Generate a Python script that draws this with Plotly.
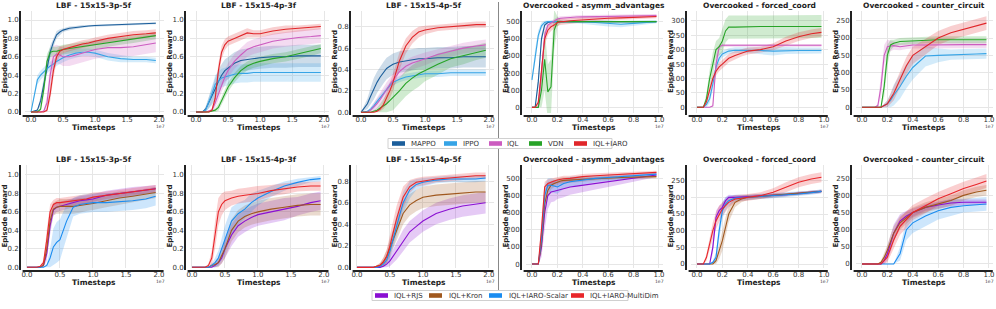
import plotly.graph_objects as go

W, H = 996, 309
FONT = "DejaVu Sans"

# ---------------- x grids (timesteps, in units of 1e7) ----------------
lbf_t = [0, 0.1, 0.15, 0.2, 0.25, 0.3, 0.35, 0.4, 0.45, 0.5, 0.6, 0.7, 0.8, 0.9, 1.0, 1.2, 1.4, 1.6, 1.8, 1.95]
oc_t = [0, 0.025, 0.05, 0.075, 0.1, 0.125, 0.15, 0.175, 0.2, 0.225, 0.25, 0.3, 0.35, 0.4, 0.5, 0.6, 0.7, 0.8, 0.9, 0.98]

# ---------------- top row: baselines ----------------
# LBF 15x15-3p-5f
t1_mappo = [0, 0.02, 0.12, 0.3, 0.5, 0.65, 0.76, 0.84, 0.87, 0.89, 0.91, 0.92, 0.93, 0.935, 0.94, 0.945, 0.95, 0.955, 0.96, 0.965]
t1_mappo_sd = [0, 0.01, 0.05, 0.08, 0.08, 0.07, 0.05, 0.04, 0.03, 0.02, 0.02, 0.015, 0.015, 0.01, 0.01, 0.01, 0.01, 0.01, 0.01, 0.01]
t1_ippo = [0, 0.35, 0.4, 0.44, 0.47, 0.5, 0.52, 0.55, 0.57, 0.59, 0.62, 0.64, 0.65, 0.65, 0.64, 0.6, 0.58, 0.57, 0.57, 0.56]
t1_ippo_sd = [0, 0.05, 0.05, 0.05, 0.05, 0.05, 0.05, 0.05, 0.05, 0.05, 0.05, 0.05, 0.04, 0.04, 0.04, 0.04, 0.04, 0.03, 0.03, 0.03]
t1_iql = [0, 0, 0, 0.01, 0.1, 0.4, 0.6, 0.63, 0.62, 0.6, 0.6, 0.62, 0.64, 0.66, 0.68, 0.7, 0.7, 0.71, 0.73, 0.75]
t1_iql_sd = [0, 0, 0, 0.01, 0.08, 0.15, 0.12, 0.1, 0.1, 0.1, 0.1, 0.1, 0.1, 0.1, 0.1, 0.1, 0.1, 0.1, 0.1, 0.1]
t1_vdn = [0, 0, 0.03, 0.25, 0.55, 0.65, 0.66, 0.66, 0.67, 0.68, 0.69, 0.7, 0.71, 0.72, 0.73, 0.75, 0.77, 0.79, 0.81, 0.83]
t1_vdn_sd = [0, 0, 0.02, 0.08, 0.08, 0.05, 0.05, 0.05, 0.05, 0.05, 0.05, 0.05, 0.05, 0.05, 0.05, 0.04, 0.04, 0.04, 0.04, 0.04]
t1_iaro = [0, 0, 0, 0, 0.02, 0.2, 0.45, 0.6, 0.66, 0.68, 0.7, 0.72, 0.74, 0.75, 0.77, 0.8, 0.82, 0.84, 0.85, 0.86]
t1_iaro_sd = [0, 0, 0, 0, 0.02, 0.08, 0.08, 0.06, 0.05, 0.04, 0.04, 0.04, 0.04, 0.04, 0.04, 0.04, 0.04, 0.04, 0.04, 0.04]

# LBF 15x15-4p-3f
t2_mappo = [0, 0, 0.03, 0.1, 0.18, 0.25, 0.33, 0.4, 0.45, 0.48, 0.53, 0.56, 0.57, 0.58, 0.59, 0.6, 0.6, 0.61, 0.61, 0.61]
t2_mappo_sd = [0, 0, 0.03, 0.06, 0.1, 0.12, 0.12, 0.12, 0.12, 0.12, 0.12, 0.12, 0.12, 0.12, 0.12, 0.12, 0.12, 0.12, 0.12, 0.12]
t2_ippo = [0, 0, 0.02, 0.1, 0.2, 0.3, 0.34, 0.37, 0.38, 0.39, 0.41, 0.42, 0.42, 0.43, 0.43, 0.43, 0.43, 0.43, 0.43, 0.43]
t2_ippo_sd = [0, 0, 0.02, 0.06, 0.1, 0.1, 0.1, 0.1, 0.1, 0.1, 0.1, 0.1, 0.1, 0.1, 0.1, 0.1, 0.1, 0.1, 0.1, 0.1]
t2_iql = [0, 0, 0, 0.01, 0.02, 0.1, 0.2, 0.3, 0.38, 0.45, 0.55, 0.62, 0.68, 0.71, 0.73, 0.77, 0.79, 0.81, 0.82, 0.83]
t2_iql_sd = [0, 0, 0, 0.01, 0.02, 0.05, 0.08, 0.08, 0.08, 0.08, 0.08, 0.08, 0.08, 0.08, 0.08, 0.08, 0.08, 0.08, 0.08, 0.08]
t2_vdn = [0, 0, 0, 0, 0.01, 0.02, 0.05, 0.12, 0.2, 0.27, 0.37, 0.45, 0.5, 0.53, 0.55, 0.58, 0.6, 0.63, 0.66, 0.69]
t2_vdn_sd = [0, 0, 0, 0, 0.01, 0.02, 0.04, 0.05, 0.05, 0.05, 0.05, 0.05, 0.05, 0.05, 0.05, 0.05, 0.05, 0.05, 0.05, 0.05]
t2_iaro = [0, 0, 0, 0, 0.02, 0.15, 0.45, 0.65, 0.73, 0.77, 0.8, 0.83, 0.86, 0.85, 0.85, 0.88, 0.9, 0.91, 0.92, 0.93]
t2_iaro_sd = [0, 0, 0, 0, 0.02, 0.06, 0.08, 0.07, 0.06, 0.05, 0.05, 0.05, 0.05, 0.04, 0.04, 0.04, 0.04, 0.03, 0.03, 0.03]

# LBF 15x15-4p-5f
t3_mappo = [0, 0.08, 0.15, 0.22, 0.28, 0.33, 0.37, 0.41, 0.43, 0.45, 0.47, 0.48, 0.49, 0.5, 0.5, 0.51, 0.51, 0.52, 0.52, 0.52]
t3_mappo_sd = [0, 0.05, 0.08, 0.1, 0.1, 0.1, 0.1, 0.1, 0.1, 0.1, 0.1, 0.1, 0.1, 0.1, 0.1, 0.1, 0.1, 0.1, 0.1, 0.1]
t3_ippo = [0, 0.01, 0.03, 0.06, 0.1, 0.14, 0.18, 0.22, 0.25, 0.28, 0.31, 0.33, 0.34, 0.35, 0.36, 0.36, 0.37, 0.37, 0.37, 0.37]
t3_ippo_sd = [0, 0.01, 0.02, 0.03, 0.03, 0.03, 0.03, 0.03, 0.03, 0.03, 0.03, 0.03, 0.03, 0.03, 0.03, 0.03, 0.03, 0.03, 0.03, 0.03]
t3_iql = [0, 0, 0.02, 0.05, 0.08, 0.12, 0.17, 0.22, 0.26, 0.3, 0.38, 0.43, 0.46, 0.48, 0.5, 0.54, 0.57, 0.6, 0.62, 0.63]
t3_iql_sd = [0, 0, 0.02, 0.04, 0.05, 0.06, 0.06, 0.06, 0.06, 0.06, 0.06, 0.06, 0.06, 0.06, 0.06, 0.05, 0.05, 0.05, 0.05, 0.05]
t3_vdn = [0, 0, 0, 0.01, 0.02, 0.04, 0.06, 0.08, 0.11, 0.14, 0.2, 0.27, 0.32, 0.36, 0.39, 0.45, 0.5, 0.53, 0.56, 0.58]
t3_vdn_sd = [0, 0, 0, 0.01, 0.02, 0.04, 0.06, 0.08, 0.1, 0.12, 0.12, 0.12, 0.12, 0.12, 0.1, 0.1, 0.08, 0.08, 0.07, 0.07]
t3_iaro = [0, 0, 0, 0, 0.01, 0.03, 0.07, 0.13, 0.2, 0.28, 0.48, 0.62, 0.7, 0.75, 0.77, 0.79, 0.8, 0.81, 0.82, 0.82]
t3_iaro_sd = [0, 0, 0, 0, 0.01, 0.02, 0.04, 0.06, 0.07, 0.08, 0.08, 0.07, 0.06, 0.05, 0.04, 0.03, 0.03, 0.03, 0.03, 0.03]

# Overcooked - asymm_advantages
t4_mappo = [0, 0, 150, 400, 480, 495, 500, 500, 500, 500, 500, 500, 500, 500, 500, 500, 500, 500, 500, 500]
t4_mappo_sd = [0, 0, 40, 30, 10, 5, 3, 3, 3, 3, 3, 3, 3, 3, 3, 3, 3, 3, 3, 3]
t4_ippo = [160, 300, 420, 475, 495, 500, 500, 500, 500, 500, 500, 500, 500, 500, 495, 490, 485, 490, 495, 500]
t4_ippo_sd = [20, 40, 30, 20, 10, 8, 8, 8, 8, 8, 8, 10, 10, 12, 15, 18, 18, 15, 12, 10]
t4_iql = [0, 0, 0, 200, 420, 480, 490, 500, 515, 520, 522, 525, 527, 528, 530, 530, 532, 533, 534, 535]
t4_iql_sd = [0, 0, 0, 60, 40, 20, 15, 15, 12, 12, 12, 10, 10, 10, 10, 10, 10, 10, 10, 10]
t4_vdn = [0, 0, 0, 100, 280, 90, 120, 450, 500, 500, 500, 500, 500, 500, 500, 500, 500, 500, 500, 500]
t4_vdn_sd = [0, 0, 0, 100, 180, 160, 160, 120, 30, 10, 5, 5, 5, 5, 5, 5, 5, 5, 5, 5]
t4_iaro = [0, 0, 30, 200, 400, 450, 470, 480, 495, 500, 500, 505, 508, 510, 515, 520, 522, 525, 528, 530]
t4_iaro_sd = [0, 0, 20, 60, 40, 30, 25, 20, 20, 20, 18, 15, 15, 15, 12, 12, 12, 10, 10, 10]

# Overcooked - forced_coord
t5_ippo = [0, 0, 0, 10, 30, 80, 140, 170, 185, 190, 195, 198, 198, 198, 197, 195, 197, 197, 197, 197]
t5_ippo_sd = [0, 0, 0, 10, 15, 20, 20, 15, 12, 10, 10, 10, 10, 10, 12, 15, 12, 10, 10, 10]
t5_iql = [0, 0, 0, 0, 0, 5, 150, 210, 215, 215, 215, 215, 215, 215, 215, 215, 215, 215, 215, 215]
t5_iql_sd = [0, 0, 0, 0, 0, 5, 30, 10, 5, 5, 5, 5, 5, 5, 5, 5, 5, 5, 5, 5]
t5_vdn = [0, 0, 0, 30, 100, 150, 200, 210, 230, 265, 278, 278, 279, 280, 280, 280, 280, 280, 280, 280]
t5_vdn_sd = [0, 0, 0, 20, 30, 40, 30, 30, 40, 40, 40, 40, 40, 40, 40, 40, 40, 40, 40, 40]
t5_iaro = [0, 0, 0, 20, 60, 100, 125, 140, 150, 160, 170, 180, 188, 195, 200, 210, 230, 245, 255, 260]
t5_iaro_sd = [0, 0, 0, 10, 15, 15, 15, 15, 15, 15, 15, 15, 12, 12, 10, 12, 15, 15, 15, 15]

# Overcooked - counter_circuit
t6_ippo = [0, 0, 0, 0, 0, 0, 0, 5, 10, 20, 35, 60, 90, 115, 148, 150, 152, 153, 154, 155]
t6_ippo_sd = [0, 0, 0, 0, 0, 0, 0, 5, 10, 20, 30, 35, 35, 35, 30, 20, 15, 15, 15, 15]
t6_iql = [0, 0, 0, 0, 0, 5, 60, 150, 175, 177, 178, 175, 178, 180, 180, 181, 181, 181, 181, 181]
t6_iql_sd = [0, 0, 0, 0, 0, 5, 30, 30, 20, 15, 12, 10, 10, 10, 10, 10, 10, 10, 10, 10]
t6_vdn = [0, 0, 0, 0, 0, 0, 0, 60, 150, 180, 185, 190, 191, 192, 195, 195, 195, 195, 195, 195]
t6_vdn_sd = [0, 0, 0, 0, 0, 0, 0, 30, 30, 15, 10, 10, 10, 10, 10, 10, 10, 10, 10, 10]
t6_iaro = [0, 0, 0, 0, 0, 0, 0, 5, 10, 25, 40, 80, 120, 150, 175, 200, 215, 225, 235, 243]
t6_iaro_sd = [0, 0, 0, 0, 0, 0, 0, 5, 10, 15, 20, 25, 25, 25, 22, 20, 20, 20, 20, 20]

# ---------------- bottom row: ablations ----------------
b1_rjs = [0, 0, 0, 0, 0.02, 0.15, 0.45, 0.62, 0.65, 0.66, 0.68, 0.7, 0.72, 0.73, 0.74, 0.78, 0.8, 0.82, 0.84, 0.85]
b1_kron = [0, 0, 0, 0, 0.02, 0.2, 0.5, 0.63, 0.65, 0.66, 0.66, 0.66, 0.67, 0.68, 0.69, 0.72, 0.75, 0.77, 0.79, 0.81]
b1_scalar = [0, 0, 0, 0, 0, 0.02, 0.1, 0.22, 0.27, 0.3, 0.5, 0.65, 0.68, 0.69, 0.7, 0.7, 0.71, 0.72, 0.74, 0.77]
b1_multi = [0, 0, 0, 0.01, 0.05, 0.3, 0.6, 0.68, 0.7, 0.7, 0.71, 0.72, 0.73, 0.74, 0.76, 0.78, 0.8, 0.82, 0.84, 0.85]
b1_rjs_sd = [0, 0, 0, 0, 0.02, 0.08, 0.1, 0.06, 0.05, 0.05, 0.05, 0.05, 0.05, 0.05, 0.05, 0.05, 0.05, 0.05, 0.04, 0.04]
b1_kron_sd = [0, 0, 0, 0, 0.02, 0.08, 0.1, 0.07, 0.07, 0.08, 0.08, 0.08, 0.08, 0.07, 0.07, 0.07, 0.07, 0.06, 0.06, 0.06]
b1_scalar_sd = [0, 0, 0, 0, 0, 0.02, 0.1, 0.2, 0.22, 0.22, 0.18, 0.1, 0.1, 0.1, 0.1, 0.1, 0.1, 0.1, 0.1, 0.1]
b1_multi_sd = [0, 0, 0, 0.01, 0.03, 0.1, 0.08, 0.05, 0.05, 0.05, 0.05, 0.05, 0.05, 0.05, 0.05, 0.04, 0.04, 0.04, 0.04, 0.04]

b2_rjs = [0, 0, 0, 0, 0, 0, 0.02, 0.05, 0.1, 0.2, 0.35, 0.45, 0.5, 0.54, 0.57, 0.6, 0.63, 0.66, 0.7, 0.72]
b2_kron = [0, 0, 0, 0, 0, 0.02, 0.03, 0.05, 0.12, 0.2, 0.4, 0.5, 0.55, 0.58, 0.6, 0.63, 0.65, 0.67, 0.68, 0.68]
b2_scalar = [0, 0, 0, 0, 0, 0.02, 0.05, 0.1, 0.2, 0.3, 0.5, 0.58, 0.63, 0.7, 0.75, 0.82, 0.88, 0.92, 0.95, 0.96]
b2_multi = [0, 0, 0, 0, 0.02, 0.1, 0.35, 0.6, 0.68, 0.72, 0.75, 0.77, 0.78, 0.79, 0.8, 0.83, 0.85, 0.87, 0.88, 0.88]
b2_rjs_sd = [0, 0, 0, 0, 0, 0, 0.02, 0.04, 0.06, 0.1, 0.12, 0.12, 0.12, 0.12, 0.12, 0.12, 0.12, 0.1, 0.1, 0.1]
b2_kron_sd = [0, 0, 0, 0, 0, 0.02, 0.03, 0.05, 0.08, 0.1, 0.12, 0.12, 0.12, 0.12, 0.12, 0.12, 0.12, 0.12, 0.12, 0.12]
b2_scalar_sd = [0, 0, 0, 0, 0, 0.02, 0.05, 0.08, 0.12, 0.15, 0.15, 0.12, 0.1, 0.1, 0.08, 0.06, 0.05, 0.04, 0.03, 0.03]
b2_multi_sd = [0, 0, 0, 0, 0.02, 0.08, 0.15, 0.15, 0.12, 0.1, 0.08, 0.08, 0.08, 0.08, 0.08, 0.06, 0.06, 0.05, 0.05, 0.05]

b3_rjs = [0, 0, 0, 0, 0, 0, 0, 0.01, 0.03, 0.06, 0.15, 0.25, 0.33, 0.38, 0.43, 0.5, 0.54, 0.57, 0.59, 0.6]
b3_kron = [0, 0, 0, 0, 0, 0.01, 0.02, 0.05, 0.1, 0.18, 0.35, 0.5, 0.58, 0.62, 0.65, 0.67, 0.68, 0.69, 0.7, 0.7]
b3_scalar = [0, 0, 0, 0, 0, 0, 0.01, 0.03, 0.07, 0.15, 0.38, 0.6, 0.72, 0.77, 0.79, 0.81, 0.82, 0.82, 0.82, 0.83]
b3_multi = [0, 0, 0, 0, 0, 0.01, 0.02, 0.05, 0.1, 0.2, 0.45, 0.65, 0.75, 0.79, 0.8, 0.82, 0.83, 0.84, 0.85, 0.85]
b3_rjs_sd = [0, 0, 0, 0, 0, 0, 0, 0.01, 0.03, 0.05, 0.08, 0.1, 0.1, 0.1, 0.1, 0.1, 0.1, 0.1, 0.1, 0.1]
b3_kron_sd = [0, 0, 0, 0, 0, 0.01, 0.02, 0.04, 0.06, 0.08, 0.1, 0.1, 0.1, 0.1, 0.1, 0.1, 0.1, 0.1, 0.1, 0.1]
b3_scalar_sd = [0, 0, 0, 0, 0, 0, 0.01, 0.03, 0.05, 0.08, 0.1, 0.1, 0.08, 0.05, 0.04, 0.03, 0.03, 0.03, 0.03, 0.03]
b3_multi_sd = [0, 0, 0, 0, 0, 0.01, 0.02, 0.04, 0.06, 0.1, 0.12, 0.1, 0.06, 0.04, 0.04, 0.03, 0.03, 0.03, 0.03, 0.03]

b4_rjs = [0, 0, 0, 100, 300, 400, 420, 425, 430, 435, 440, 450, 455, 460, 470, 480, 490, 500, 510, 520]
b4_kron = [0, 0, 0, 120, 350, 430, 460, 470, 480, 485, 488, 490, 493, 495, 500, 502, 505, 507, 509, 510]
b4_scalar = [0, 0, 0, 150, 400, 460, 460, 455, 450, 460, 470, 480, 485, 490, 500, 505, 510, 515, 520, 525]
b4_multi = [0, 0, 0, 200, 450, 470, 480, 485, 490, 495, 498, 500, 505, 510, 515, 520, 525, 530, 532, 535]
b4_rjs_sd = [0, 0, 0, 60, 100, 80, 60, 60, 50, 50, 50, 45, 40, 40, 35, 30, 25, 20, 15, 12]
b4_kron_sd = [0, 0, 0, 60, 80, 40, 25, 20, 20, 20, 18, 15, 15, 15, 12, 12, 10, 10, 10, 10]
b4_scalar_sd = [0, 0, 0, 60, 60, 40, 40, 40, 40, 35, 30, 30, 28, 25, 22, 20, 18, 15, 12, 10]
b4_multi_sd = [0, 0, 0, 60, 30, 25, 20, 20, 18, 18, 18, 15, 15, 15, 15, 12, 12, 10, 10, 10]

b5_rjs = [0, 0, 0, 0, 0, 50, 140, 160, 170, 190, 200, 200, 201, 202, 204, 205, 208, 212, 215, 218]
b5_kron = [0, 0, 0, 0, 0, 0, 10, 40, 70, 110, 150, 185, 195, 200, 203, 205, 208, 212, 215, 218]
b5_scalar = [0, 0, 0, 0, 0, 5, 20, 100, 160, 180, 190, 198, 199, 200, 203, 205, 208, 210, 214, 218]
b5_multi = [0, 0, 0, 20, 60, 100, 130, 150, 165, 175, 185, 195, 198, 200, 205, 215, 230, 245, 255, 260]
b5_rjs_sd = [0, 0, 0, 0, 0, 20, 20, 15, 12, 10, 8, 6, 5, 5, 5, 5, 5, 5, 5, 5]
b5_kron_sd = [0, 0, 0, 0, 0, 0, 10, 25, 30, 30, 25, 15, 10, 8, 6, 5, 5, 5, 5, 5]
b5_scalar_sd = [0, 0, 0, 0, 0, 5, 15, 25, 25, 20, 15, 10, 8, 8, 8, 8, 6, 6, 6, 6]
b5_multi_sd = [0, 0, 0, 10, 20, 25, 25, 25, 20, 18, 15, 12, 10, 10, 10, 12, 15, 15, 15, 15]

b6_rjs = [0, 0, 0, 0, 0, 0, 0, 10, 30, 60, 90, 125, 140, 150, 165, 172, 178, 180, 180, 180]
b6_kron = [0, 0, 0, 0, 0, 0, 5, 20, 40, 65, 90, 120, 135, 150, 165, 175, 185, 200, 210, 215]
b6_scalar = [0, 0, 0, 0, 0, 0, 0, 0, 0, 0, 0, 30, 100, 120, 140, 155, 165, 170, 173, 175]
b6_multi = [0, 0, 0, 0, 0, 0, 0, 10, 20, 45, 70, 110, 130, 150, 170, 190, 205, 220, 232, 242]
b6_rjs_sd = [0, 0, 0, 0, 0, 0, 0, 10, 20, 25, 25, 20, 15, 12, 10, 10, 10, 8, 8, 8]
b6_kron_sd = [0, 0, 0, 0, 0, 0, 5, 10, 15, 20, 20, 20, 18, 15, 15, 15, 15, 15, 15, 15]
b6_scalar_sd = [0, 0, 0, 0, 0, 0, 0, 0, 0, 0, 0, 20, 30, 30, 30, 25, 25, 20, 20, 20]
b6_multi_sd = [0, 0, 0, 0, 0, 0, 0, 10, 15, 20, 25, 25, 25, 22, 22, 20, 20, 20, 20, 20]

# ---------------- text ----------------
titles_top = ["LBF - 15x15-3p-5f", "LBF - 15x15-4p-3f", "LBF - 15x15-4p-5f",
              "Overcooked - asymm_advantages", "Overcooked - forced_coord", "Overcooked - counter_circuit"]
titles_bot = titles_top
legend_top = ["MAPPO", "IPPO", "IQL", "VDN", "IQL+IARO"]
legend_bot = ["IQL+RJS", "IQL+Kron", "IQL+IARO-Scalar", "IQL+IARO-MultiDim"]

COL = {"MAPPO": "#1b5e9b", "IPPO": "#36a4e6", "IQL": "#cc5cc0", "VDN": "#27a327",
       "IQL+IARO": "#e0262a", "IQL+RJS": "#8a0fd2", "IQL+Kron": "#a0581e",
       "IQL+IARO-Scalar": "#1a8cf0", "IQL+IARO-MultiDim": "#e8262a"}

panels = [
    # row, title, t, series, xdom(px), xrange, yrange, ytick step, ytick max
    (0, titles_top[0], lbf_t, [("MAPPO", t1_mappo, t1_mappo_sd), ("IPPO", t1_ippo, t1_ippo_sd), ("IQL", t1_iql, t1_iql_sd), ("VDN", t1_vdn, t1_vdn_sd), ("IQL+IARO", t1_iaro, t1_iaro_sd)],
     (24.6, 163.5), (-0.1, 2.07), (-0.011, 1.098), 0.2, 1.0),
    (0, titles_top[1], lbf_t, [("MAPPO", t2_mappo, t2_mappo_sd), ("IPPO", t2_ippo, t2_ippo_sd), ("IQL", t2_iql, t2_iql_sd), ("VDN", t2_vdn, t2_vdn_sd), ("IQL+IARO", t2_iaro, t2_iaro_sd)],
     (189.6, 328.5), (-0.1, 2.07), (-0.011, 1.098), 0.2, 1.0),
    (0, titles_top[2], lbf_t, [("MAPPO", t3_mappo, t3_mappo_sd), ("IPPO", t3_ippo, t3_ippo_sd), ("IQL", t3_iql, t3_iql_sd), ("VDN", t3_vdn, t3_vdn_sd), ("IQL+IARO", t3_iaro, t3_iaro_sd)],
     (354.6, 493.5), (-0.1, 2.07), (-0.0065, 0.947), 0.2, 0.8),
    (0, titles_top[3], oc_t, [("MAPPO", t4_mappo, t4_mappo_sd), ("IPPO", t4_ippo, t4_ippo_sd), ("IQL", t4_iql, t4_iql_sd), ("VDN", t4_vdn, t4_vdn_sd), ("IQL+IARO", t4_iaro, t4_iaro_sd)],
     (525.6, 662.8), (-0.05, 1.03), (-33, 562), 100, 500),
    (0, titles_top[4], oc_t, [("IPPO", t5_ippo, t5_ippo_sd), ("IQL", t5_iql, t5_iql_sd), ("VDN", t5_vdn, t5_vdn_sd), ("IQL+IARO", t5_iaro, t5_iaro_sd)],
     (690.6, 827.8), (-0.05, 1.03), (-19.7, 334), 50, 300),
    (0, titles_top[5], oc_t, [("IPPO", t6_ippo, t6_ippo_sd), ("IQL", t6_iql, t6_iql_sd), ("VDN", t6_vdn, t6_vdn_sd), ("IQL+IARO", t6_iaro, t6_iaro_sd)],
     (855.6, 992.8), (-0.05, 1.03), (-16.4, 278), 50, 250),
    (1, titles_bot[0], lbf_t, [("IQL+RJS", b1_rjs, b1_rjs_sd), ("IQL+Kron", b1_kron, b1_kron_sd), ("IQL+IARO-Scalar", b1_scalar, b1_scalar_sd), ("IQL+IARO-MultiDim", b1_multi, b1_multi_sd)],
     (24.6, 163.6), (-0.036, 2.07), (-0.008, 1.108), 0.2, 1.0),
    (1, titles_bot[1], lbf_t, [("IQL+RJS", b2_rjs, b2_rjs_sd), ("IQL+Kron", b2_kron, b2_kron_sd), ("IQL+IARO-Scalar", b2_scalar, b2_scalar_sd), ("IQL+IARO-MultiDim", b2_multi, b2_multi_sd)],
     (189.6, 328.5), (-0.036, 2.07), (-0.008, 1.108), 0.2, 1.0),
    (1, titles_bot[2], lbf_t, [("IQL+RJS", b3_rjs, b3_rjs_sd), ("IQL+Kron", b3_kron, b3_kron_sd), ("IQL+IARO-Scalar", b3_scalar, b3_scalar_sd), ("IQL+IARO-MultiDim", b3_multi, b3_multi_sd)],
     (354.6, 493.5), (-0.036, 2.07), (-0.006, 0.95), 0.2, 0.8),
    (1, titles_bot[3], oc_t, [("IQL+RJS", b4_rjs, b4_rjs_sd), ("IQL+Kron", b4_kron, b4_kron_sd), ("IQL+IARO-Scalar", b4_scalar, b4_scalar_sd), ("IQL+IARO-MultiDim", b4_multi, b4_multi_sd)],
     (525.6, 662.8), (-0.05, 1.03), (-23, 578), 100, 500),
    (1, titles_bot[4], oc_t, [("IQL+RJS", b5_rjs, b5_rjs_sd), ("IQL+Kron", b5_kron, b5_kron_sd), ("IQL+IARO-Scalar", b5_scalar, b5_scalar_sd), ("IQL+IARO-MultiDim", b5_multi, b5_multi_sd)],
     (690.6, 827.8), (-0.05, 1.03), (-12, 297), 50, 250),
    (1, titles_bot[5], oc_t, [("IQL+IARO-Scalar", b6_scalar, b6_scalar_sd), ("IQL+RJS", b6_rjs, b6_rjs_sd), ("IQL+Kron", b6_kron, b6_kron_sd), ("IQL+IARO-MultiDim", b6_multi, b6_multi_sd)],
     (855.6, 992.8), (-0.05, 1.03), (-11.7, 288.6), 50, 250),
]

ROW_Y = {0: (11.0, 113.0), 1: (165.0, 268.0)}


def px(x):
    return x / W


def py(y):
    return 1 - y / H


def rgba(hexc, a):
    h = hexc.lstrip("#")
    return "rgba(%d,%d,%d,%.2f)" % (int(h[0:2], 16), int(h[2:4], 16), int(h[4:6], 16), a)


fig = go.Figure()
layout = {}
shapes = []
annotations = []

for i, (row, title, t, series, xd, xr, yr, ystep, ymax) in enumerate(panels):
    k = "" if i == 0 else str(i + 1)
    xa, ya = "x" + k, "y" + k
    ytop, ybot = ROW_Y[row]
    is_lbf = xr[1] > 1.5
    xt = [0, 0.5, 1.0, 1.5, 2.0] if is_lbf else [0, 0.2, 0.4, 0.6, 0.8, 1.0]
    nyt = int(round(ymax / ystep))
    yt = [j * ystep for j in range(nyt + 1)]
    ytxt = [("%.1f" % v) if ystep < 1 else ("%d" % v) for v in yt]
    layout["xaxis" + k] = dict(domain=[px(xd[0]), px(xd[1])], range=list(xr), anchor=ya,
                               tickvals=xt, ticktext=["%.1f" % v for v in xt], automargin=False,
                               showgrid=True, gridcolor="#e6e6e6", gridwidth=1, zeroline=False,
                               showline=False, ticks="", ticklabelstandoff=1,
                               tickfont=dict(size=7, color="#333", family=FONT))
    layout["yaxis" + k] = dict(domain=[py(ybot), py(ytop)], range=list(yr), anchor=xa,
                               tickvals=yt, ticktext=ytxt, automargin=False,
                               showgrid=True, gridcolor="#e6e6e6", gridwidth=1, zeroline=False,
                               showline=False, ticks="", ticklabelstandoff=5,
                               tickfont=dict(size=7, color="#333", family=FONT))
    for name, m, sd in series:
        c = COL[name]
        up = [a + b for a, b in zip(m, sd)]
        lo = [a - b for a, b in zip(m, sd)]
        fig.add_trace(go.Scatter(x=t + t[::-1], y=up + lo[::-1], fill="toself",
                                 fillcolor=rgba(c, 0.22), line=dict(width=0),
                                 hoverinfo="skip", showlegend=False, xaxis=xa, yaxis=ya))
    for name, m, sd in series:
        fig.add_trace(go.Scatter(x=t, y=m, mode="lines", line=dict(color=COL[name], width=1.1),
                                 showlegend=False, xaxis=xa, yaxis=ya))
    # spines (offset, seaborn-like)
    shapes.append(dict(type="line", xref="paper", yref="paper",
                       x0=px(xd[0] - 4.6), x1=px(xd[0] - 4.6), y0=py(ybot + 2), y1=py(ytop),
                       line=dict(color="#222", width=2)))
    shapes.append(dict(type="line", xref="paper", yref="paper",
                       x0=px(xd[0] - 2), x1=px(xd[1]), y0=py(ybot + 3), y1=py(ybot + 3),
                       line=dict(color="#222", width=2)))
    cx = (xd[0] + xd[1]) / 2
    annotations.append(dict(text="<b>%s</b>" % title, x=px(cx), y=py(ytop - 6), xref="paper", yref="paper",
                            showarrow=False, font=dict(size=7.5, color="#222", family=FONT),
                            xanchor="center", yanchor="middle"))
    annotations.append(dict(text="<b>Timesteps</b>", x=px(cx), y=py(ybot + 14), xref="paper", yref="paper",
                            showarrow=False, font=dict(size=7.5, color="#222", family=FONT),
                            xanchor="center", yanchor="middle"))
    annotations.append(dict(text="<b>Episode Reward</b>", x=px(xd[0] - 19.5), y=py((ytop + ybot) / 2),
                            xref="paper", yref="paper", textangle=-90, showarrow=False,
                            font=dict(size=7, color="#222", family=FONT), xanchor="center", yanchor="middle"))
    annotations.append(dict(text="1e7", x=px(xd[1] - 3), y=py(ybot + 13), xref="paper", yref="paper",
                            showarrow=False, font=dict(size=4.5, color="#444", family=FONT),
                            xanchor="center", yanchor="middle"))

# separator line
shapes.append(dict(type="line", xref="paper", yref="paper", x0=px(498.5), x1=px(498.5),
                   y0=py(2), y1=py(290), line=dict(color="#888", width=1)))

# legends (drawn manually as patches + labels)
def add_legend(names, box, patch_x, text_x, yc):
    shapes.append(dict(type="rect", xref="paper", yref="paper", x0=px(box[0]), x1=px(box[1]),
                       y0=py(yc + 5), y1=py(yc - 5), line=dict(color="#d0d0d0", width=1),
                       fillcolor="white", layer="above"))
    for n, xp, xtx in zip(names, patch_x, text_x):
        shapes.append(dict(type="rect", xref="paper", yref="paper", x0=px(xp), x1=px(xp + 13),
                           y0=py(yc + 2.3), y1=py(yc - 2.3), line=dict(width=0),
                           fillcolor=COL[n], layer="above"))
        annotations.append(dict(text=n, x=px(xtx), y=py(yc), xref="paper", yref="paper",
                                showarrow=False, xanchor="left", yanchor="middle",
                                font=dict(size=7, color="#333", family=FONT)))


add_legend(legend_top, (388, 612), [392, 444, 489, 529, 574], [409, 461, 505, 546, 591], 143.5)
add_legend(legend_bot, (372, 628), [375, 429, 489, 571], [392, 447, 507, 588], 295.5)

fig.update_layout(width=W, height=H, margin=dict(l=0, r=0, t=0, b=0),
                  paper_bgcolor="white", plot_bgcolor="white", showlegend=False,
                  shapes=shapes, annotations=annotations, **layout)

fig.write_html("out.html", config={"displayModeBar": False},
               post_script="document.body.style.margin='0';document.body.style.padding='0';")
